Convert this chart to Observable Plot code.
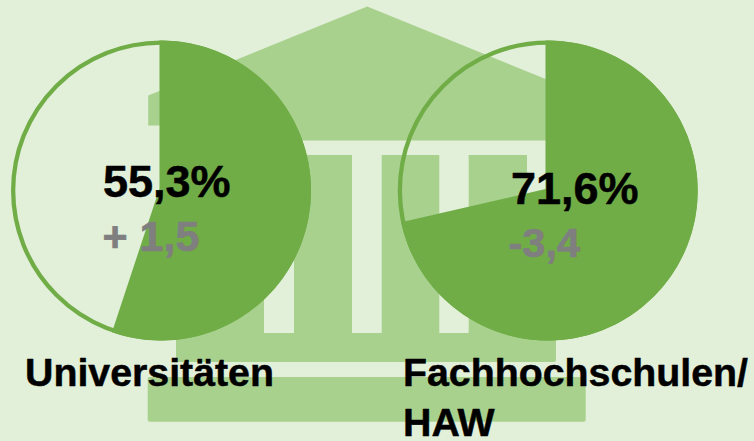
<!DOCTYPE html>
<html lang="de">
<head>
<meta charset="utf-8">
<script src="https://cdn.jsdelivr.net/npm/d3@7"></script>
<script src="https://cdn.jsdelivr.net/npm/@observablehq/plot@0.6"></script>
<style>
html,body{margin:0;padding:0;background:#E2EFD9;overflow:hidden}
svg{display:block}
</style>
</head>
<body>
<div id="chart"></div>
<script>
// Chart values
const categories = ["Universitäten", "Fachhochschulen/\nHAW"];
const shares = [55.3, 71.6];
const shareLabels = ["55,3%", "71,6%"];
const changeLabels = ["+ 1,5", "-3,4"];

// Decorative building, in the picture's own units
const roofX = [147.7, 366.7, 585.7, 585.7, 545.5, 545.5, 188, 188, 147.7];
const roofY = [95, 6, 95, 125, 125, 140, 140, 125, 125];
const columnX1 = [206.7, 294, 381.7, 468.7];
const columnX2 = [264, 352, 439.3, 527];
const baseX1 = [176, 147.7];
const baseX2 = [556, 585.7];
const baseY1 = [333, 377];
const baseY2 = [362, 421.7];

// Layout
const centerX = [160.5, 547.2];
const apexX = [159, 545];
const apexY = [188, 188.5];
const centerY = 190, radius = 150, ringWidth = 4.3;
const shareX = [102.5, 510.5], shareY = [196, 203];
const changeX = [102, 508], changeY = [250, 256];
const changeSize = [43, 41.5];
const labelX = [24.5, 402.5], labelY = [386, 386];

const GREEN = "#70AD47", PALE = "#A9D18E", BG = "#E2EFD9", GREY = "#7F7F7F";
const FONT = "'Liberation Sans', Arial, sans-serif";

const roof = roofX.map((x, i) => ({x, y: roofY[i]}));
const columns = columnX1.map((x1, i) => ({x1, x2: columnX2[i], y1: 155, y2: 333}));
const bases = baseX1.map((x1, i) => ({x1, x2: baseX2[i], y1: baseY1[i], y2: baseY2[i]}));

function slice(i) {
  const cx = centerX[i];
  const start = Math.asin((apexX[i] - cx) / radius);
  const end = (shares[i] / 100) * 2 * Math.PI;
  const n = 120;
  const pts = [{x: apexX[i], y: apexY[i], s: i}];
  for (let k = 0; k <= n; k++) {
    const a = start + (end - start) * k / n;
    pts.push({x: cx + radius * Math.sin(a), y: centerY - radius * Math.cos(a), s: i});
  }
  pts.push({x: apexX[i], y: apexY[i], s: i});
  return pts;
}
const slices = shares.flatMap((_, i) => slice(i));

const plot = Plot.plot({
  width: 754,
  height: 441,
  margin: 0,
  style: {background: BG},
  x: {domain: [0, 754], range: [0, 754], axis: null},
  y: {domain: [0, 441], range: [0, 441], axis: null},
  r: {type: "identity"},
  marks: [
    Plot.line(roof.concat(roof[0]), {x: "x", y: "y", fill: PALE, stroke: "none"}),
    Plot.rect(columns, {x1: "x1", x2: "x2", y1: "y1", y2: "y2", fill: PALE}),
    Plot.rect(bases, {x1: "x1", x2: "x2", y1: "y1", y2: "y2", fill: PALE, rx: 2}),
    Plot.line(slices, {x: "x", y: "y", z: "s", fill: GREEN, stroke: "none"}),
    Plot.dot(centerX, {x: d => d, y: () => centerY, r: () => radius - ringWidth / 2, stroke: GREEN, strokeWidth: ringWidth, fill: "none"}),
    Plot.text(shareLabels, {x: (_, i) => shareX[i], y: (_, i) => shareY[i], text: d => d, fill: "#000", stroke: "#000", strokeWidth: 0.5, fontSize: 45, fontWeight: 700, fontFamily: FONT, textAnchor: "start", lineAnchor: "bottom"}),
    Plot.text(changeLabels, {x: (_, i) => changeX[i], y: (_, i) => changeY[i], text: d => d, fill: GREY, stroke: GREY, strokeWidth: 0.7, fontSize: (_, i) => changeSize[i], fontWeight: 700, fontFamily: FONT, textAnchor: "start", lineAnchor: "bottom"}),
    Plot.text(categories, {x: (_, i) => labelX[i], y: (_, i) => labelY[i], text: d => d, fill: "#000", stroke: "#000", strokeWidth: 0.5, fontSize: 39.3, fontWeight: 700, fontFamily: FONT, textAnchor: "start", lineAnchor: "top", lineHeight: 50 / 39.3, dy: -36})
  ]
});
document.getElementById("chart").append(plot);
</script>
</body>
</html>
